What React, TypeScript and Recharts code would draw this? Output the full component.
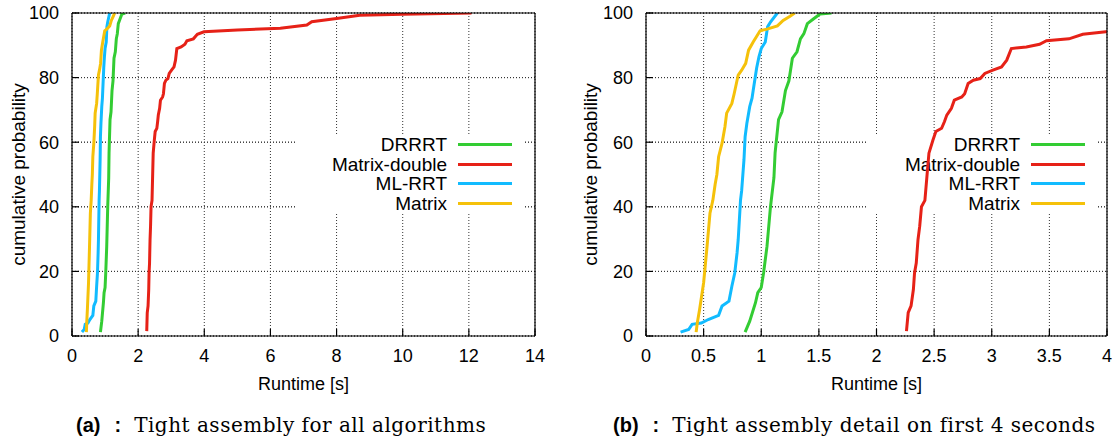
import React from 'react'
import { LineChart, Line, XAxis, YAxis, CartesianGrid, ReferenceLine, Label } from 'recharts'

type Pt = { x: number; y: number }
const pts = (rows: number[][]): Pt[] => rows.map(([x, y]) => ({ x, y }))

// runtime [s] vs cumulative probability [%]
const drrrt = pts([
  [0.86, 1.2], [0.9, 4.6], [0.95, 10.3], [0.97, 13.4], [1.0, 15], [1.02, 19.5], [1.05, 27.8],
  [1.08, 40], [1.11, 49], [1.12, 56.6], [1.15, 67], [1.18, 69.4], [1.21, 76], [1.24, 79],
  [1.27, 86], [1.31, 88], [1.34, 92], [1.37, 93.6], [1.4, 96.7], [1.455, 98.2], [1.51, 99.7], [1.61, 100],
])

const matrixDouble = pts([
  [2.26, 1.5], [2.275, 7.2], [2.3, 9.3], [2.32, 14.4], [2.33, 19.5], [2.345, 22.6], [2.36, 29.8],
  [2.375, 34], [2.39, 40], [2.42, 42], [2.44, 50.4], [2.455, 56.6], [2.49, 60.7], [2.515, 63.3],
  [2.565, 64.3], [2.59, 66.4], [2.61, 68.4], [2.65, 70.5], [2.675, 73], [2.74, 74], [2.765, 75],
  [2.795, 78.2], [2.84, 79.2], [2.9, 79.7], [2.94, 81.3], [3.01, 82.3], [3.085, 83.3], [3.13, 85.4],
  [3.17, 89], [3.3, 89.5], [3.415, 90.3], [3.475, 91.4], [3.67, 92], [3.79, 93.4], [3.99, 94.2],
  [5.0, 94.7], [6.3, 95.3], [7.1, 96.3], [7.25, 97.3], [8.0, 98.3], [8.7, 99.3], [10.0, 99.6], [12.08, 100],
])

const mlRrt = pts([
  [0.3, 1.2], [0.37, 2], [0.4, 3.6], [0.48, 4], [0.54, 5.1], [0.63, 6.4], [0.66, 9.3], [0.72, 10.8],
  [0.745, 15.4], [0.77, 19.5], [0.79, 25.7], [0.8, 29.8], [0.82, 42], [0.83, 45], [0.85, 54.5],
  [0.86, 61.7], [0.875, 65.8], [0.9, 71], [0.92, 73.6], [0.93, 76], [0.96, 83], [0.98, 86.4],
  [1.0, 89], [1.035, 91], [1.055, 95.7], [1.08, 97.2], [1.14, 100],
])

const matrix = pts([
  [0.435, 1.2], [0.445, 4], [0.465, 8.2], [0.5, 16.5], [0.53, 27.8], [0.555, 38], [0.58, 42],
  [0.6, 47], [0.615, 50], [0.63, 55.5], [0.66, 59.7], [0.685, 64.8], [0.7, 69], [0.745, 72],
  [0.765, 75], [0.8, 80.8], [0.83, 82.3], [0.865, 84.4], [0.89, 88.5], [0.93, 91], [0.99, 94.5],
  [1.05, 95], [1.14, 96], [1.19, 97.7], [1.25, 99], [1.29, 100],
])

const seriesNames = ['DRRRT', 'Matrix-double', 'ML-RRT', 'Matrix']
const seriesColors = ['#33cc33', '#e62117', '#11bbff', '#f5c10a']
const seriesData = [drrrt, matrixDouble, mlRrt, matrix]

const yTicks = [0, 20, 40, 60, 80, 100]
const yDomain: [number, number] = [0, 100]
const xTicksAll = [0, 2, 4, 6, 8, 10, 12, 14]
const xTicksDetail = [0, 0.5, 1, 1.5, 2, 2.5, 3, 3.5, 4]

const FONT = '"Liberation Sans", Arial, sans-serif'
const CHART_H = 400
const AXIS = { stroke: '#000', strokeWidth: 1.2 }
const KEY_TOP = 135
const KEY_W = 230
const KEY_H = 78
const noTick = () => <g />

// dotted horizontal grid row that leaves a gap where the key box sits
const gridRow = (keyLeft: number) => (props: any) => {
  const x1 = Number(props.x1), x2 = Number(props.x2), y = Number(props.y1)
  if (!Number.isFinite(y)) return <g key={props.key} />
  const inKey = y > KEY_TOP && y < KEY_TOP + KEY_H
  const d = inKey
    ? `M${x1},${y}H${keyLeft}M${keyLeft + KEY_W},${y}H${x2}`
    : `M${x1},${y}H${x2}`
  return <path key={props.key ?? `row-${y}`} d={d} fill="none" stroke="#333" strokeWidth={1} strokeDasharray="1 2" />
}

interface PanelProps {
  left: number
  width: number
  yAxisWidth: number
  marginRight: number
  xDomain: [number, number]
  xTicks: number[]
  yLabelDx: number
  legendLeft: number
  captionLeft: number
  tag: string
  caption: string
}

function axes(p: PanelProps, visible: boolean) {
  const tick = visible ? { fontSize: 18, fill: '#000', fontFamily: FONT } : noTick
  const line = visible ? AXIS : false
  return (
    <>
      <XAxis
        type="number" dataKey="x" domain={p.xDomain} ticks={p.xTicks} interval={0}
        allowDataOverflow height={64} axisLine={line} tickLine={line} tick={tick}
        tickSize={-7} tickMargin={20}
      >
        {visible && (
          <Label value="Runtime [s]" position="insideBottom" offset={10}
            fontSize={18} fill="#000" fontFamily={FONT} />
        )}
      </XAxis>
      <YAxis
        type="number" dataKey="y" domain={yDomain} ticks={yTicks} interval={0} allowDataOverflow
        width={p.yAxisWidth} axisLine={line} tickLine={line} tick={tick}
        tickSize={-7} tickMargin={20}
      >
        {visible && (
          <Label value="cumulative probability" position="center" angle={-90} dx={p.yLabelDx}
            fontSize={19} fill="#000" fontFamily={FONT} />
        )}
      </YAxis>
      {/* mirrored frame on top and right */}
      <XAxis xAxisId="top" orientation="top" type="number" domain={p.xDomain} ticks={p.xTicks}
        allowDataOverflow height={1} tick={noTick} tickLine={false} axisLine={line} />
      <YAxis yAxisId="right" orientation="right" type="number" domain={yDomain} ticks={yTicks}
        allowDataOverflow width={1} tick={noTick} tickLine={false} axisLine={line} />
    </>
  )
}

function Panel(p: PanelProps) {
  const margin = { top: 12, right: p.marginRight - 1, bottom: 0, left: 0 }
  const row = gridRow(p.legendLeft)
  return (
    <div style={{ position: 'absolute', left: p.left, top: 0, width: p.width, height: 445 }}>
      {/* back layer: dotted vertical grid */}
      <div style={{ position: 'absolute', left: 0, top: 0 }}>
        <LineChart width={p.width} height={CHART_H} margin={margin}>
          {axes(p, false)}
          <CartesianGrid stroke="#333" strokeDasharray="1 2" strokeWidth={1}
            horizontal={false} verticalValues={p.xTicks} />
        </LineChart>
      </div>

      {/* key box, opaque so the grid stops around it */}
      <div style={{
        position: 'absolute', left: p.legendLeft, top: KEY_TOP, width: KEY_W, height: KEY_H,
        background: '#fff', fontFamily: FONT, fontSize: 19, color: '#000',
      }}>
        {seriesNames.map((name, i) => (
          <div key={name} style={{ display: 'flex', alignItems: 'center', height: 19.5, lineHeight: '19.5px' }}>
            <span style={{ width: 152, textAlign: 'right', whiteSpace: 'nowrap' }}>{name}</span>
            <span style={{ width: 54, height: 3, background: seriesColors[i], marginLeft: 11 }} />
          </div>
        ))}
      </div>

      {/* front layer: horizontal grid rows, axes, frame and curves */}
      <div style={{ position: 'absolute', left: 0, top: 0 }}>
        <LineChart width={p.width} height={CHART_H} margin={margin}>
          {axes(p, true)}
          <CartesianGrid vertical={false} horizontal={row} />
          {yTicks.map(v => (
            <ReferenceLine key={v} y={v} shape={row} />
          ))}
          {seriesData.map((d, i) => (
            <Line
              key={seriesNames[i]}
              data={d}
              dataKey="y"
              name={seriesNames[i]}
              type="linear"
              stroke={seriesColors[i]}
              strokeWidth={3}
              dot={false}
              activeDot={false}
              isAnimationActive={false}
            />
          ))}
        </LineChart>
      </div>

      {/* sub-caption */}
      <div style={{
        position: 'absolute', left: p.captionLeft, top: 413, whiteSpace: 'nowrap',
        fontFamily: '"DejaVu Serif", serif', fontSize: 20, lineHeight: '24px',
        letterSpacing: 0.5, color: '#000',
      }}>
        <span style={{ fontFamily: FONT, fontWeight: 700, fontSize: 20, letterSpacing: 0 }}>{p.tag}</span>
        <span style={{ fontFamily: FONT, fontWeight: 700, fontSize: 20, letterSpacing: 0, marginLeft: 14 }}>:</span>
        <span style={{ marginLeft: 13 }}>{p.caption}</span>
      </div>
    </div>
  )
}

export default function App() {
  return (
    <div style={{ position: 'absolute', left: 0, top: 0, width: 1117, height: 445, background: '#fff', overflow: 'hidden' }}>
      <Panel
        left={0} width={560} yAxisWidth={72} marginRight={25}
        xDomain={[0, 14]} xTicks={xTicksAll} yLabelDx={-17.5}
        legendLeft={295} captionLeft={76}
        tag="(a)" caption="Tight assembly for all algorithms"
      />
      <Panel
        left={560} width={557} yAxisWidth={86} marginRight={10}
        xDomain={[0, 4]} xTicks={xTicksDetail} yLabelDx={-12.5}
        legendLeft={308} captionLeft={53}
        tag="(b)" caption="Tight assembly detail on first 4 seconds"
      />
    </div>
  )
}
